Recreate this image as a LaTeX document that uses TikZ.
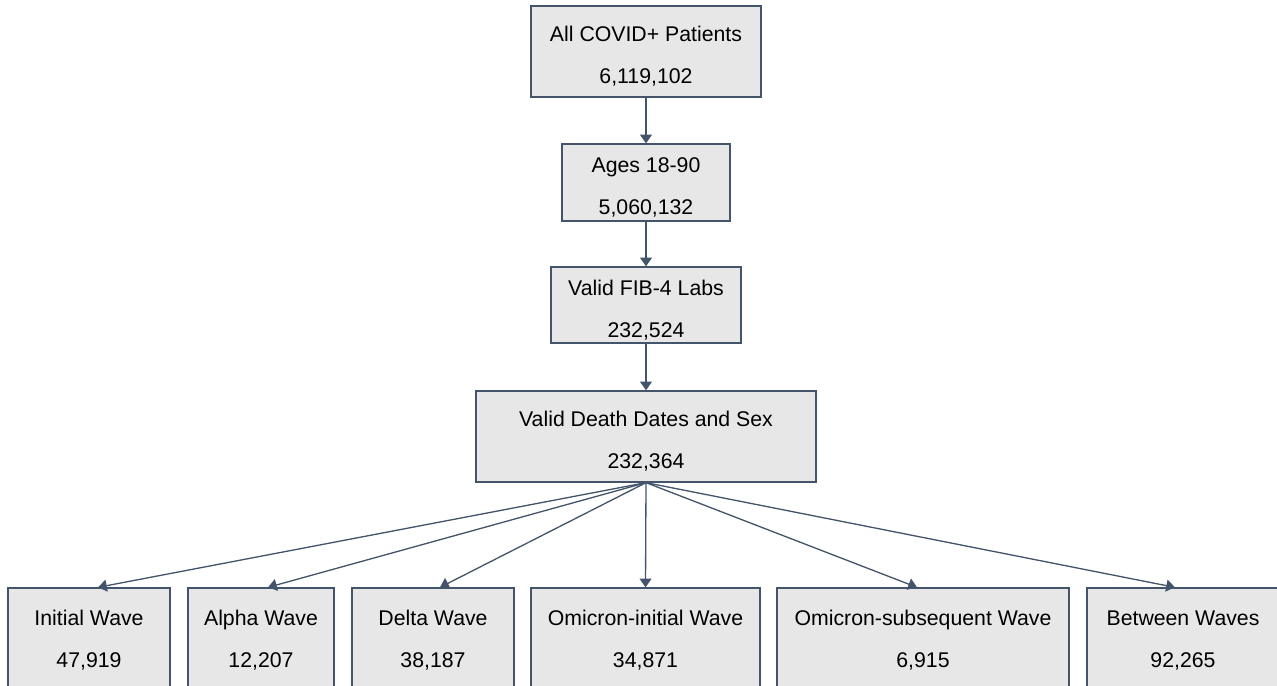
\documentclass[tikz,border=0pt]{standalone}
\usepackage{fontspec}
\setmainfont{Liberation Sans}
\usetikzlibrary{arrows.meta}
\definecolor{edgeblue}{HTML}{44546A}
\definecolor{boxgray}{HTML}{E7E7E7}
\begin{document}
\begin{tikzpicture}[
	box/.style={ rectangle, draw=edgeblue, line width=0.75pt, fill=boxgray, inner sep=0pt, align=center, font=\fontsize{12.1}{23.9}\selectfont },
	stage/.style={ box, execute at begin node={\rule{0pt}{38.4pt}} },
	wave/.style={ box, minimum height=2.1cm },
	flow/.style={ draw=edgeblue, line width=0.75pt, -{Triangle[length=5pt,width=6.8pt]} }
]
\useasboundingbox (0,0) rectangle (25.54,-13.72);

\node at (12.92,-1.03) (all) [stage,minimum width=4.6cm,minimum height=1.82cm] {All COVID+ Patients\\6,119,102};
\node at (12.92,-3.65) (ages) [stage,minimum width=3.36cm,minimum height=1.54cm] {Ages 18-90\\5,060,132};
\node at (12.92,-6.10) (fib) [stage,minimum width=3.8cm,minimum height=1.52cm] {Valid FIB-4 Labs\\232,524};
\node at (12.92,-8.73) (death) [stage,minimum width=6.8cm,minimum height=1.82cm] {Valid Death Dates and Sex\\232,364};

\node at (1.78,-12.81) (initial) [wave,minimum width=3.24cm] {Initial Wave\\47,919};
\node at (5.22,-12.81) (alpha) [wave,minimum width=2.92cm] {Alpha Wave\\12,207};
\node at (8.66,-12.81) (delta) [wave,minimum width=3.24cm] {Delta Wave\\38,187};
\node at (12.91,-12.81) (omiini) [wave,minimum width=4.58cm] {Omicron-initial Wave\\34,871};
\node at (18.46,-12.81) (omisub) [wave,minimum width=5.84cm] {Omicron-subsequent Wave\\6,915};
\node at (23.66,-12.81) (between) [wave,minimum width=3.84cm] {Between Waves\\92,265};

\draw[flow] (all) to (ages);
\draw[flow] (ages) to (fib);
\draw[flow] (fib) to (death);
\foreach \w/\s in {initial/0.18,alpha/0.14,delta/0.14,omiini/0,omisub/-0.12,between/-0.16} \draw[flow] (death.south) to ([xshift=\s cm]\w.north);

\end{tikzpicture}
\end{document}
